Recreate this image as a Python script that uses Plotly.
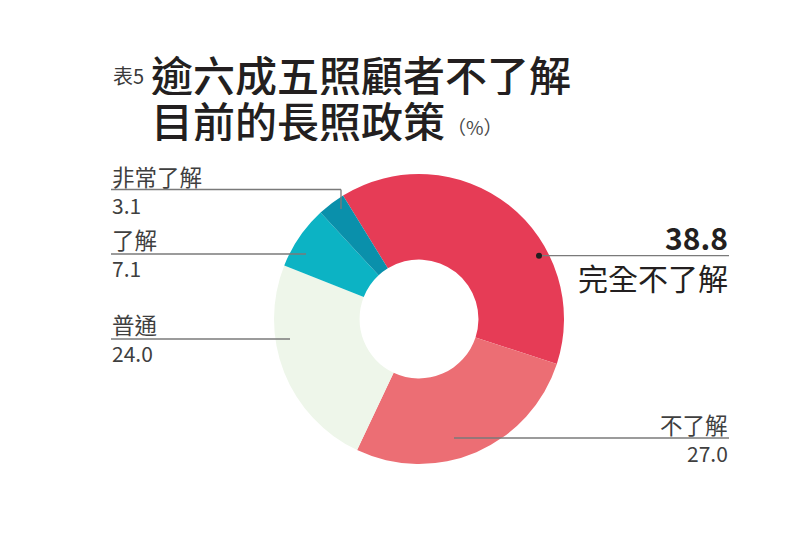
import plotly.graph_objects as go

W, H = 792, 555
OFF = 8  # page body margin shifts the figure by this many pixels

# data
labels = ["完全不了解", "不了解", "普通", "了解", "非常了解"]
values = [38.8, 27.0, 24.0, 7.1, 3.1]
colors = ["#e63c56", "#ec6e74", "#eef6ea", "#0cb3c4", "#0a90ab"]

FONT = "Noto Sans CJK TC, Noto Sans, sans-serif"
TXT = "#3f3f3f"
LINE = "#7a7a7a"


def px(x):
    return (x - OFF) / W


def py(y):
    return 1 - (y - OFF) / H


fig = go.Figure()
fig.add_trace(go.Pie(
    labels=labels, values=values, sort=False, direction="clockwise",
    rotation=-31.6, hole=0.41, textinfo="none", hoverinfo="label+value",
    marker=dict(colors=colors, line=dict(width=0)),
    domain=dict(x=[px(419 - 145), px(419 + 145)], y=[py(319 + 145), py(319 - 145)]),
    showlegend=False,
))

shapes = []
annotations = []


def hline(x0, x1, y):
    shapes.append(dict(type="line", xref="paper", yref="paper",
                       x0=px(x0), x1=px(x1), y0=py(y), y1=py(y),
                       line=dict(color=LINE, width=1.3)))


def note(text, x, y, size=21, anchor="left", color=TXT, weight="normal", height=None):
    annotations.append(dict(text=text, x=px(x), y=py(y), xref="paper", yref="paper",
                            xanchor=anchor, yanchor="middle", showarrow=False,
                            height=height,
                            font=dict(family=FONT, size=size, color=color, weight=weight)))


# left side labels
hline(111, 341, 189.5)
shapes.append(dict(type="line", xref="paper", yref="paper",
                   x0=px(341), x1=px(341), y0=py(189.5), y1=py(209),
                   line=dict(color=LINE, width=1.3)))
note(labels[4], 110, 175.5, size=22.5)
note(f"{values[4]:.1f}", 110, 205)

hline(111, 306, 254)
note(labels[3], 110, 239.5, size=22.5)
note(f"{values[3]:.1f}", 110, 268)

hline(111, 290, 339)
note(labels[2], 110, 324.5, size=22.5)
note(f"{values[2]:.1f}", 110, 353)

# right side labels
hline(539, 729, 255.7)
shapes.append(dict(type="circle", xref="paper", yref="paper",
                   x0=px(536), x1=px(542), y0=py(252.7), y1=py(258.7),
                   fillcolor="#231f20", line=dict(width=0)))
note(f"<b>{values[0]:.1f}</b>", 730, 237, size=30, anchor="right", color="#231f20")
note(labels[0], 730, 277.5, size=30, anchor="right", color="#231f20")

hline(454, 729, 438)
note(labels[1], 730, 423.5, size=22.5, anchor="right")
note(f"{values[1]:.1f}", 730, 453, anchor="right")

# title
note("表5", 111, 76, size=20, color="#3a3a3a")
note("逾六成五照顧者不了解", 149, 73, size=42, color="#231f20", weight=500, height=44)
note("目前的長照政策", 149, 119, size=42, color="#231f20", weight=500, height=44)
note("（%）", 445, 126, size=19, color="#4a4a4a")

fig.update_layout(
    width=W, height=H,
    margin=dict(l=0, r=0, t=0, b=0),
    paper_bgcolor="white", plot_bgcolor="white",
    shapes=shapes, annotations=annotations,
)

fig.write_html("out.html")
